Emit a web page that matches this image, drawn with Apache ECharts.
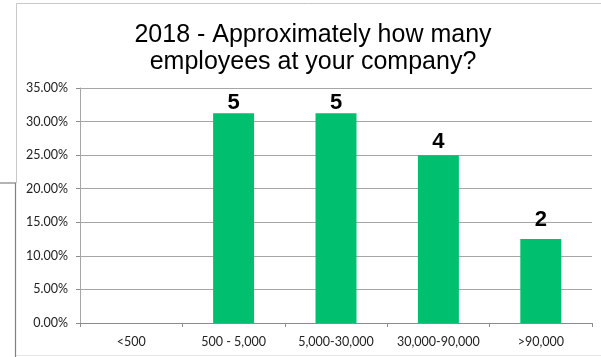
<!DOCTYPE html>
<html>
<head>
<meta charset="utf-8">
<script src="https://cdn.jsdelivr.net/npm/echarts@6/dist/echarts.min.js"></script>
<style>
  html, body { margin: 0; padding: 0; background: #fff; }
  #chart { width: 601px; height: 357px; }
</style>
</head>
<body>
<div id="chart"></div>
<script>
// Company size buckets and survey results
const categories = ['<500', '500 - 5,000', '5,000-30,000', '30,000-90,000', '>90,000'];
const respondentCounts = [0, 5, 5, 4, 2];
const shareOfRespondents = [0, 0.3125, 0.3125, 0.25, 0.125];
const yTicks = { min: 0, max: 0.35, interval: 0.05 };

// gap between each bar and its count label
const labelGaps = [0, -1, -1, 2, 8];

const chart = echarts.init(document.getElementById('chart'), null, { renderer: 'canvas' });

chart.setOption({
  backgroundColor: '#ffffff',
  animation: false,
  title: {
    text: '2018 - Approximately how many\nemployees at your company?',
    left: 308,
    top: 17,
    textAlign: 'center',
    textStyle: {
      fontFamily: 'Liberation Sans, Arial, sans-serif',
      fontSize: 25,
      fontWeight: 'normal',
      color: '#000',
      lineHeight: 27
    }
  },
  grid: { left: 80, right: 9, top: 88, bottom: 34, containLabel: false },
  xAxis: {
    type: 'category',
    data: categories,
    axisLine: { lineStyle: { color: '#8c8c8c', width: 1 } },
    axisTick: { show: true, length: 4, alignWithLabel: false, lineStyle: { color: '#8c8c8c' } },
    axisLabel: {
      interval: 0,
      fontFamily: 'Lato, Calibri, sans-serif',
      fontSize: 12.5,
      color: '#222',
      margin: 12
    }
  },
  yAxis: {
    type: 'value',
    min: yTicks.min,
    max: yTicks.max,
    interval: yTicks.interval,
    axisLine: { show: true, lineStyle: { color: '#a6a6a6', width: 1 } },
    axisTick: { show: true, length: 4, lineStyle: { color: '#8c8c8c' } },
    splitLine: { lineStyle: { color: '#a6a6a6', width: 1 } },
    axisLabel: {
      fontFamily: 'Lato, Calibri, sans-serif',
      fontSize: 12.5,
      color: '#222',
      margin: 12,
      formatter: v => (v * 100).toFixed(2) + '%'
    }
  },
  series: [{
    type: 'bar',
    data: shareOfRespondents.map((v, i) => ({
      value: v,
      count: respondentCounts[i],
      label: { distance: labelGaps[i] }
    })),
    barWidth: '40%',
    itemStyle: { color: '#00bf6f' },
    label: {
      show: true,
      position: 'top',
      fontFamily: 'Liberation Sans, Arial, sans-serif',
      fontSize: 22,
      fontWeight: 'bold',
      color: '#000',
      formatter: p => (p.data.count ? String(p.data.count) : '')
    }
  }],
  graphic: [
    // outer frame of the chart area
    { type: 'line', shape: { x1: 16.5, y1: 3.5, x2: 601, y2: 3.5 }, style: { stroke: '#c8c8c8', lineWidth: 1 } },
    { type: 'line', shape: { x1: 16.5, y1: 3.5, x2: 16.5, y2: 183 }, style: { stroke: '#c8c8c8', lineWidth: 1 } },
    { type: 'line', shape: { x1: 16, y1: 355.5, x2: 601, y2: 355.5 }, style: { stroke: '#e6e6e6', lineWidth: 1 } },
    // darker bracket at the lower left
    { type: 'line', shape: { x1: 0, y1: 183, x2: 16, y2: 183 }, style: { stroke: '#808080', lineWidth: 1.2 } },
    { type: 'line', shape: { x1: 15.5, y1: 183, x2: 15.5, y2: 357 }, style: { stroke: '#808080', lineWidth: 1.2 } }
  ]
});
</script>
</body>
</html>
